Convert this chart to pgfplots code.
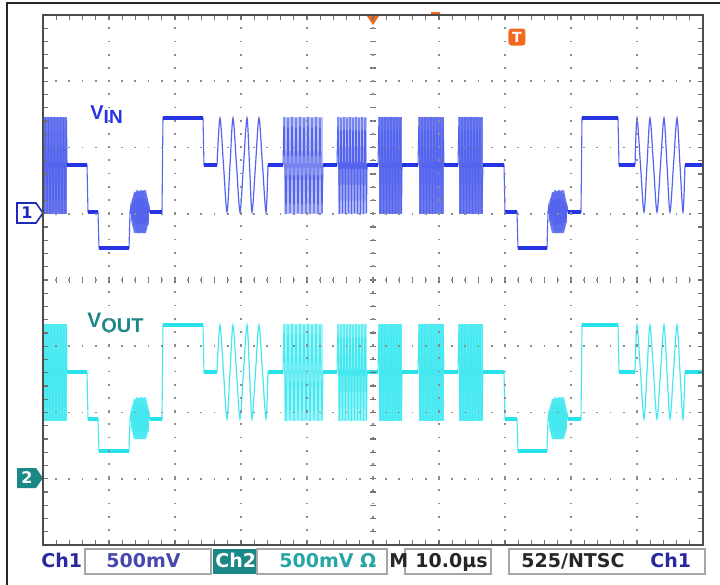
\documentclass[border=0pt]{standalone}
\usepackage{pgfplots}
\pgfplotsset{compat=1.18}
\usepackage{pgfplotstable}
\usepackage{fontspec}
\setmainfont{Liberation Sans}
\newfontfamily\tek{DejaVu Sans}

\definecolor{vin}{RGB}{38,52,228}
\definecolor{vinb}{RGB}{85,100,238}
\definecolor{vinl}{RGB}{188,195,248}
\definecolor{vinm}{RGB}{112,126,238}
\definecolor{vout}{RGB}{40,226,236}
\definecolor{voutb}{RGB}{70,232,240}
\definecolor{voutl}{RGB}{160,246,250}
\definecolor{voutm}{RGB}{88,236,245}
\definecolor{teal2}{RGB}{28,135,135}
\definecolor{tealtxt}{RGB}{40,165,165}
\definecolor{chblue}{RGB}{40,40,160}
\definecolor{trig}{RGB}{242,105,30}

% x and y in screen pixels of the reference (y grows downward)
\pgfplotstableread{
x vin vout
43 140 347
44 214 421
45.5 117 324
47 213 420
48.5 118 325
50 214 421
51.5 117 324
53 213 420
54.5 117 324
56 214 421
57.5 118 325
59 213 420
60.5 117 324
62 214 421
63.5 118 325
65 213 420
66.5 120 327
67 165 372
87 165 372
88 212 419
98 212 419
99 248 451
129 248 451
130 212 419
131 205 412
132 220 427
133 198 405
134 226 433
135 193 400
136 231 438
137 190 397
138 233 439
139 191 398
140 233 439
141 190 397
142 232 438
143 191 398
144 233 439
145 193 400
146 230 437
147 198 405
148 225 432
149 206 413
150 212 419
162 212 419
163 118 325
203 118 325
204 165 372
217 165 372
}\trA

\pgfplotstableread{
x vin vout
217 165 372
220 118 325
223.5 165 372
227 212 419
230 165 372
233 118 325
236.5 165 372
240 212 419
243.5 165 372
247 118 325
249.5 165 372
252 212 419
255.5 165 372
259 118 325
262.5 165 372
266 212 419
268 165 372
}\sinA

\pgfplotstableread{
x vin vout
268 165 372
283 165 372
284 117 324
286 214 421
288 118 325
290 213 420
292 117 324
294 214 421
296 118 325
298 213 420
300 117 324
302 214 421
304 118 325
306 213 420
308 117 324
310 214 421
312 118 325
314 213 420
316 117 324
318 214 421
320 118 325
322 213 420
323 165 372
337 165 372
338 117 324
339.5 214 421
341 118 325
342.5 213 420
344 117 324
345.5 214 421
347 118 325
348.5 213 420
350 117 324
351.5 214 421
353 118 325
354.5 213 420
356 117 324
357.5 214 421
359 118 325
360.5 213 420
362 117 324
363.5 214 421
365 118 325
366.5 213 420
367 165 372
378 165 372
379 117 324
380.5 214 421
382 118 325
383.5 213 420
385 117 324
386.5 214 421
388 118 325
389.5 213 420
391 117 324
392.5 214 421
394 118 325
395.5 213 420
397 117 324
398.5 214 421
400 118 325
401.5 213 420
402 165 372
418 165 372
419 117 324
420.5 214 421
422 118 325
423.5 213 420
425 117 324
426.5 214 421
428 118 325
429.5 213 420
431 117 324
432.5 214 421
434 118 325
435.5 213 420
437 117 324
438.5 214 421
440 118 325
441.5 213 420
443 118 325
444 165 372
458 165 372
459 117 324
460.5 214 421
462 118 325
463.5 213 420
465 117 324
466.5 214 421
468 118 325
469.5 213 420
471 117 324
472.5 214 421
474 118 325
475.5 213 420
477 117 324
478.5 214 421
480 118 325
481.5 213 420
483 165 372
504 165 372
505 212 419
517 212 419
518 248 451
547 248 451
548 212 419
549 205 412
550 220 427
551 198 405
552 226 433
553 193 400
554 231 438
555 190 397
556 233 439
557 191 398
558 233 439
559 190 397
560 232 438
561 192 399
562 231 438
563 194 401
564 228 435
565 199 406
566 223 430
567 206 413
568 212 419
581 212 419
582 118 325
618 118 325
619 165 372
635 165 372
}\trB

\pgfplotstableread{
x vin vout
635 165 372
637 118 325
640.5 165 372
644 212 419
647 165 372
650 118 325
653.5 165 372
657 212 419
660.5 165 372
664 118 325
667 165 372
670 212 419
673.5 165 372
677 118 325
680 165 372
683 212 419
685 165 372
}\sinB

\pgfplotstableread{
x vin vout
67 165 372
87 165 372
nan nan nan
88 212 419
98 212 419
nan nan nan
99 248 451
129 248 451
nan nan nan
150 212 419
162 212 419
nan nan nan
163 118 325
203 118 325
nan nan nan
204 165 372
217 165 372
nan nan nan
268 165 372
283 165 372
nan nan nan
323 165 372
337 165 372
nan nan nan
367 165 372
378 165 372
nan nan nan
402 165 372
418 165 372
nan nan nan
444 165 372
458 165 372
nan nan nan
483 165 372
504 165 372
nan nan nan
505 212 419
517 212 419
nan nan nan
518 248 451
547 248 451
nan nan nan
568 212 419
581 212 419
nan nan nan
582 118 325
618 118 325
nan nan nan
619 165 372
635 165 372
nan nan nan
685 165 372
703 165 372
}\flat

\begin{document}
\begin{tikzpicture}
\useasboundingbox (-21.5pt,-20pt) rectangle (338.5pt,272.5pt);
\begin{axis}[
  at={(0,0)}, anchor=south west,
  width=330pt, height=265pt, scale only axis,
  xmin=43, xmax=703, ymin=15, ymax=545, y dir=reverse,
  clip=false, axis on top,
  unbounded coords=jump,
  axis line style={draw=black!70, line width=1.4pt},
  xtick={43,109,175,241,307,373,439,505,571,637,703},
  ytick={15,81.25,147.5,213.75,280,346.25,412.5,478.75,545},
  xticklabels={}, yticklabels={},
  minor x tick num=4, minor y tick num=4,
  major tick length=2.5pt, minor tick length=2.5pt,
  tick align=inside,
  tick style={draw=black!55, line width=0.6pt},
  grid=major,
  major grid style={draw=black!45, line width=0.9pt, dash pattern=on 0.9pt off 5.7pt, dash phase=0.45pt},
]
% ---- burst envelopes VIN
\addplot[fill=vinm, draw=none] coordinates {(43,117)(67,117)(67,214)(43,214)} -- cycle;
\addplot[fill=vinm, draw=none] coordinates {(131,205)(134,192)(146,190)(149,205)(149,220)(146,233)(134,233)(131,220)} -- cycle;
\addplot[fill=vinl, draw=none] coordinates {(284,117)(323,117)(323,214)(284,214)} -- cycle;
\addplot[fill=vinl, draw=none] coordinates {(338,117)(367,117)(367,214)(338,214)} -- cycle;
\addplot[fill=vinm, draw=none] coordinates {(379,117)(402,117)(402,214)(379,214)} -- cycle;
\addplot[fill=vinm, draw=none] coordinates {(419,117)(444,117)(444,214)(419,214)} -- cycle;
\addplot[fill=vinm, draw=none] coordinates {(459,117)(483,117)(483,214)(459,214)} -- cycle;
\addplot[fill=vinm, draw=none] coordinates {(549,205)(552,192)(564,190)(567,205)(567,220)(564,233)(552,233)(549,220)} -- cycle;
% ---- burst envelopes VOUT
\addplot[fill=voutm, draw=none] coordinates {(43,324)(67,324)(67,421)(43,421)} -- cycle;
\addplot[fill=voutm, draw=none] coordinates {(131,412)(134,399)(146,397)(149,412)(149,427)(146,439)(134,439)(131,427)} -- cycle;
\addplot[fill=voutl, draw=none] coordinates {(284,324)(323,324)(323,421)(284,421)} -- cycle;
\addplot[fill=voutl, draw=none] coordinates {(338,324)(367,324)(367,421)(338,421)} -- cycle;
\addplot[fill=voutm, draw=none] coordinates {(379,324)(402,324)(402,421)(379,421)} -- cycle;
\addplot[fill=voutm, draw=none] coordinates {(419,324)(444,324)(444,421)(419,421)} -- cycle;
\addplot[fill=voutm, draw=none] coordinates {(459,324)(483,324)(483,421)(459,421)} -- cycle;
\addplot[fill=voutm, draw=none] coordinates {(549,412)(552,399)(564,397)(567,412)(567,427)(564,439)(552,439)(549,427)} -- cycle;
% ---- thin traces
\addplot[vinb, line width=0.55pt] table[x=x,y=vin] {\trA};
\addplot[vinb, line width=0.6pt, smooth] table[x=x,y=vin] {\sinA};
\addplot[vinb, line width=0.55pt] table[x=x,y=vin] {\trB};
\addplot[vinb, line width=0.6pt, smooth] table[x=x,y=vin] {\sinB};
\addplot[voutb, line width=0.55pt] table[x=x,y=vout] {\trA};
\addplot[voutb, line width=0.6pt, smooth] table[x=x,y=vout] {\sinA};
\addplot[voutb, line width=0.55pt] table[x=x,y=vout] {\trB};
\addplot[voutb, line width=0.6pt, smooth] table[x=x,y=vout] {\sinB};
% ---- flat levels (thick)
\addplot[vin, line width=2pt] table[x=x,y=vin] {\flat};
\addplot[vout, line width=2pt] table[x=x,y=vout] {\flat};

% ---- graticule centre ticks
\pgfplotsextra{%
  \foreach \k in {1,...,49}{%
    \pgfmathsetmacro{\xx}{43+13.2*\k}%
    \draw[black!55, line width=0.6pt] (axis cs:\xx,277) -- (axis cs:\xx,283);}%
  \foreach \k in {1,...,39}{%
    \pgfmathsetmacro{\yy}{15+13.25*\k}%
    \draw[black!55, line width=0.6pt] (axis cs:370,\yy) -- (axis cs:376,\yy);}%
}

% ---- labels
\node[anchor=base west, inner sep=0, text=vin, font=\bfseries\fontsize{10}{12}\selectfont] at (axis cs:90,119) {V\raisebox{-2pt}{\fontsize{9.5}{11}\selectfont IN}};
\node[anchor=base west, inner sep=0, text=teal2, font=\bfseries\fontsize{10.5}{12}\selectfont] at (axis cs:87,327) {V\raisebox{-2.5pt}{\fontsize{10}{12}\selectfont OUT}};

% ---- channel markers
\draw[draw=vin!80!black, line width=0.8pt, fill=white] (axis cs:17,203) -- (axis cs:36,203) -- (axis cs:43,213) -- (axis cs:36,223) -- (axis cs:17,223) -- cycle;
\node[text=vin!80!black, font=\tek\bfseries\fontsize{8}{9}\selectfont, inner sep=0] at (axis cs:27,213) {1};
\fill[teal2] (axis cs:17,468) -- (axis cs:36,468) -- (axis cs:43,478) -- (axis cs:36,488) -- (axis cs:17,488) -- cycle;
\node[text=white, font=\tek\bfseries\fontsize{8}{9}\selectfont, inner sep=0] at (axis cs:27,478) {2};

% ---- trigger markers
\fill[trig] (axis cs:367,16) -- (axis cs:379,16) -- (axis cs:373,25) -- cycle;
\draw[trig, line width=1pt] (axis cs:431,13) -- (axis cs:440,13);
\node[fill=trig, rounded corners=1.5pt, text=white, font=\tek\bfseries\fontsize{7}{8}\selectfont, minimum width=8.5pt, minimum height=8.5pt, inner sep=0] at (axis cs:517,37) {T};

% ---- outer frame
\draw[black!85, line width=1pt] (axis cs:7,590) -- (axis cs:7,3) -- (axis cs:725,3);

% ---- status bar
\draw[black!35, line width=0.6pt] (axis cs:85,549) rectangle (axis cs:211,574);
\fill[teal2] (axis cs:213,549) rectangle (axis cs:257,574);
\draw[black!35, line width=0.6pt] (axis cs:257,549) rectangle (axis cs:387,574);
\draw[black!35, line width=0.6pt] (axis cs:405,549) rectangle (axis cs:491,574);
\draw[black!35, line width=0.6pt] (axis cs:509,549) rectangle (axis cs:705,574);
\begin{scope}[every node/.style={anchor=base west, inner sep=0, font=\tek\bfseries\fontsize{9.5}{11}\selectfont}]
\node[text=chblue] at (axis cs:41,567) {Ch1};
\node[text=chblue!85!white] at (axis cs:106,567) {500mV};
\node[text=white] at (axis cs:215,567) {Ch2};
\node[text=tealtxt] at (axis cs:279,567) {500mV Ω};
\node[text=black!85] at (axis cs:389,567) {M};
\node[text=black!85] at (axis cs:415,567) {10.0µs};
\node[text=black!85] at (axis cs:521,567) {525/NTSC};
\node[text=chblue] at (axis cs:650,567) {Ch1};
\end{scope}
\end{axis}
\end{tikzpicture}
\end{document}
